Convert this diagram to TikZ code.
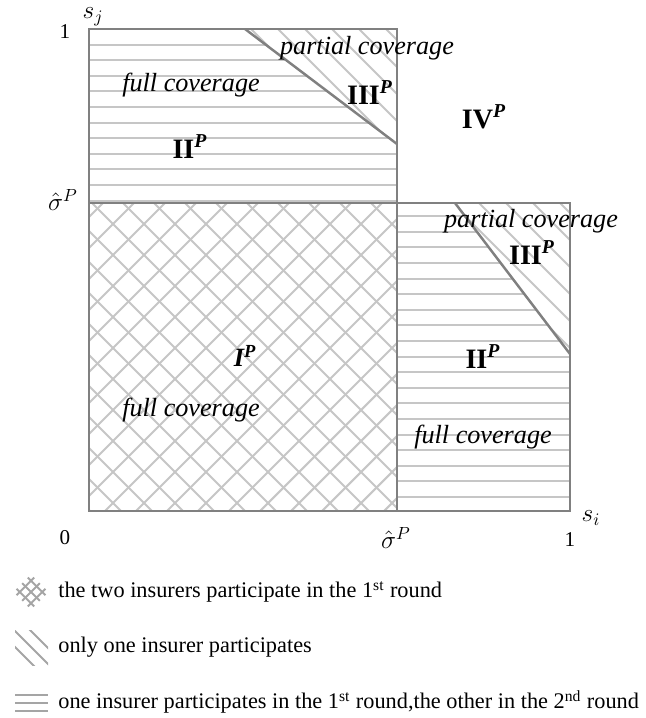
\documentclass[tikz,border=0pt]{standalone}
\usepackage{fontspec}
\setmainfont{Liberation Serif}
\usetikzlibrary{calc}

\definecolor{edgegray}{RGB}{128,128,128}
\definecolor{hatchgray}{RGB}{198,198,198}
\definecolor{keygray}{RGB}{165,165,165}

\begin{document}
\begin{tikzpicture}[
    x=0.2mm, y=-0.2mm,
    boxedge/.style={draw=edgegray, line width=1.1pt},
    boundary/.style={draw=edgegray, line width=1.4pt},
    hatch/.style={draw=hatchgray, line width=1.2pt},
    keyhatch/.style={draw=keygray, line width=1.1pt},
    cover/.style={font=\fontsize{14.9}{18}\selectfont\itshape, inner sep=0pt},
    region/.style={font=\fontsize{16}{19}\selectfont\bfseries, inner sep=0pt},
    axislbl/.style={font=\fontsize{12}{14}\selectfont, inner sep=0pt},
    axismath/.style={font=\fontsize{14.5}{17}\selectfont, inner sep=0pt},
    legendtxt/.style={font=\fontsize{12.7}{15}\selectfont, anchor=west, inner sep=0pt}
]
\useasboundingbox (0,0) rectangle (646,718);

% corners of the regions
\coordinate (origin) at (89,511);
\coordinate (topleft) at (89,29);
\coordinate (sigleft) at (89,203);
\coordinate (sigsig) at (397,203);
\coordinate (sigbot) at (397,511);
\coordinate (sigtop) at (397,29);
\coordinate (rightbot) at (570,511);
\coordinate (righttop) at (570,203);

% boundary between full and partial coverage
\coordinate (upA) at (245,29);
\coordinate (upB) at (397,144);
\coordinate (lowA) at (455,203);
\coordinate (lowB) at (570,354);

% Region I: cross hatching
\begin{scope}
\clip (sigleft) rectangle (sigbot);
\foreach \i in {-10,...,10}
  \draw[hatch] ({-111+31*\i+150},150) -- ({-111+31*\i+560},560);
\foreach \i in {8,...,29}
  \draw[hatch] ({27+31*\i-150},150) -- ({27+31*\i-560},560);
\end{scope}

% Region II: horizontal lines
\begin{scope}
\clip (topleft) -- (upA) -- (upB) -- (sigsig) -- (sigleft) -- cycle;
\foreach \k in {1,...,11}
  \draw[hatch] (80,{29+15.6*\k}) -- (410,{29+15.6*\k});
\end{scope}
\begin{scope}
\clip (sigsig) -- (lowA) -- (lowB) -- (rightbot) -- (sigbot) -- cycle;
\foreach \k in {11,...,31}
  \draw[hatch] (390,{29+15.6*\k}) -- (580,{29+15.6*\k});
\end{scope}

% Region III: diagonal lines
\begin{scope}
\clip (upA) -- (sigtop) -- (upB) -- cycle;
\foreach \c in {222,249,...,357}
  \draw[hatch] ({\c},0) -- ({\c+250},250);
\end{scope}
\begin{scope}
\clip (lowA) -- (righttop) -- (lowB) -- cycle;
\foreach \c in {222,249,...,357}
  \draw[hatch] ({\c+180},180) -- ({\c+400},400);
\end{scope}

% frames
\draw[boxedge] (topleft) rectangle (sigsig);
\draw[boxedge] (sigleft) rectangle (sigbot);
\draw[boxedge] (sigsig) rectangle (rightbot);
\draw[boundary] (upA) -- (upB);
\draw[boundary] (lowA) -- (lowB);

% axis labels
\node[axismath] (sj) at (93,17) {$s_j$};
\node[axislbl] (one-y) at (65,32) {1};
\node[axismath] (sig-y) at (63,200) {$\hat{\sigma}^{P}$};
\node[axislbl] (zero) at (65,538) {0};
\node[axismath] (sig-x) at (396,538) {$\hat{\sigma}^{P}$};
\node[axislbl] (one-x) at (570,540) {1};
\node[axismath] (si) at (591,518) {$s_i$};

% region labels
\node[cover] (partial-up) at (367,48) {partial coverage};
\node[cover] (full-up) at (191,85) {full coverage};
\node[region] (three-up) at (370,93) {III\textsuperscript{\textit{P}}};
\node[region] (two-up) at (190,147) {II\textsuperscript{\textit{P}}};
\node[region] (four) at (484,117) {IV\textsuperscript{\textit{P}}};
\node[region, font=\fontsize{15}{18}\selectfont\bfseries\itshape] (one) at (245,356) {I\textsuperscript{P}};
\node[cover] (full-one) at (191,410) {full coverage};
\node[cover] (partial-low) at (531,221) {partial coverage};
\node[region] (three-low) at (532,253) {III\textsuperscript{\textit{P}}};
\node[region] (two-low) at (483,357) {II\textsuperscript{\textit{P}}};
\node[cover] (full-low) at (483,437) {full coverage};

% legend
\begin{scope}[shift={(31,592)}, rotate=45]
\foreach \u in {-8,0,8} {
  \draw[keyhatch] (\u,-12.5) -- (\u,12.5);
  \draw[keyhatch] (-12.5,\u) -- (12.5,\u);
}
\end{scope}
\begin{scope}
\clip (15,630) rectangle (48,665);
\foreach \c in {-632,-616,-600}
  \draw[keyhatch] ({\c+620},620) -- ({\c+680},680);
\end{scope}
\foreach \y in {695,703,711}
  \draw[keyhatch] (15,\y) -- (48,\y);

\node[legendtxt] (leg-cross) at (58,592) {the two insurers participate in the 1\textsuperscript{st} round};
\node[legendtxt] (leg-diag) at (58,647) {only one insurer participates};
\node[legendtxt] (leg-horiz) at (58,702) {one insurer participates in the 1\textsuperscript{st} round,the other in the 2\textsuperscript{nd} round};

\end{tikzpicture}
\end{document}
